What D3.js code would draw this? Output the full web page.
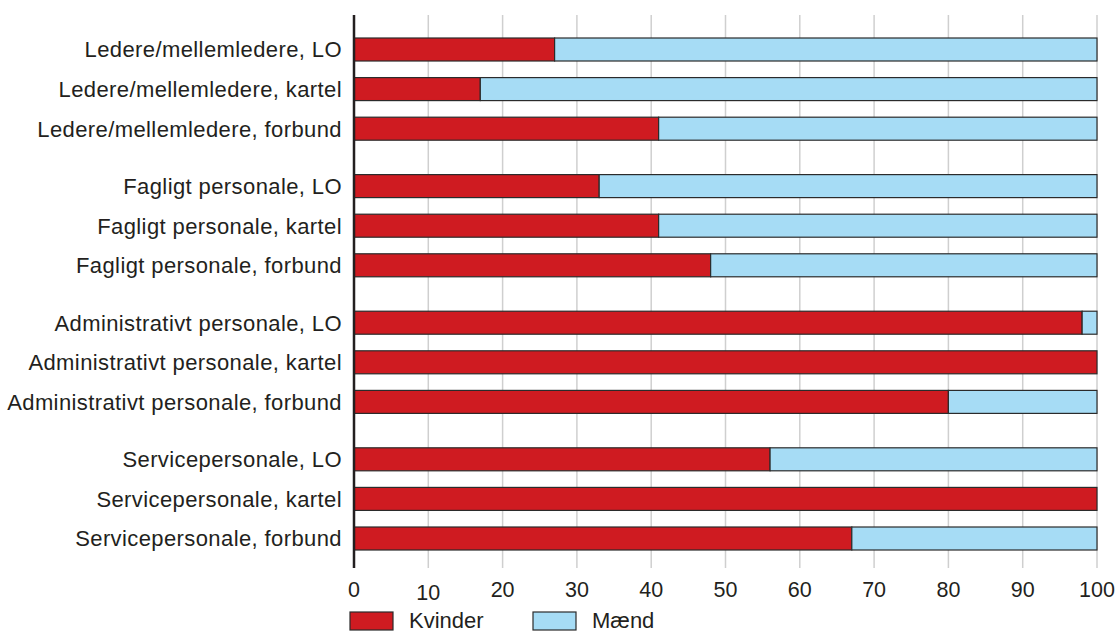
<!DOCTYPE html>
<html>
<head>
<meta charset="utf-8">
<script src="https://cdn.jsdelivr.net/npm/d3@7"></script>
<style>
  html, body { margin: 0; padding: 0; background: #fff; }
  svg { display: block; font-family: "Liberation Sans", Arial, sans-serif; }
</style>
</head>
<body>
<svg id="chart" width="1119" height="632"></svg>
<script>
// Categories, top to bottom, grouped by staff type
const categories = [
  "Ledere/mellemledere, LO",
  "Ledere/mellemledere, kartel",
  "Ledere/mellemledere, forbund",
  "Fagligt personale, LO",
  "Fagligt personale, kartel",
  "Fagligt personale, forbund",
  "Administrativt personale, LO",
  "Administrativt personale, kartel",
  "Administrativt personale, forbund",
  "Servicepersonale, LO",
  "Servicepersonale, kartel",
  "Servicepersonale, forbund"
];
const groupOf = [0, 0, 0, 1, 1, 1, 2, 2, 2, 3, 3, 3];

// Share of women (percent); men make up the rest
const kvinder = [27, 17, 41, 33, 41, 48, 98, 100, 80, 56, 100, 67];
const maend = kvinder.map(v => 100 - v);

const seriesNames = ["Kvinder", "Mænd"];
const seriesColors = ["#cf1b21", "#a6dcf5"];
const xTicks = [0, 10, 20, 30, 40, 50, 60, 70, 80, 90, 100];

const svg = d3.select("#chart");
const textColor = "#231f20";

const plot = { left: 354, right: 1097, top: 15, bottom: 568 };

const x = d3.scaleLinear().domain([0, 100]).range([plot.left, plot.right]);

// Slot position: one unit per bar plus a little extra space between groups
const groupGap = 0.45;
const slot = categories.map((c, i) => i + groupOf[i] * groupGap);
const y = d3.scaleLinear()
  .domain([0, slot[slot.length - 1]])
  .range([49.5, 538.5]);
const barH = 23;

// Vertical grid
svg.append("g")
  .selectAll("line")
  .data(xTicks.slice(1))
  .join("line")
  .attr("x1", d => x(d)).attr("x2", d => x(d))
  .attr("y1", plot.top).attr("y2", plot.bottom)
  .attr("stroke", "#cfcfcf")
  .attr("stroke-width", 1.5);

// Stacked bars
const rows = categories.map((c, i) => ({ c, i, k: kvinder[i], m: maend[i] }));
const stack = d3.stack().keys(["k", "m"])(rows);

svg.append("g")
  .selectAll("g")
  .data(stack)
  .join("g")
  .attr("fill", (d, si) => seriesColors[si])
  .selectAll("rect")
  .data(d => d.filter(s => s[1] - s[0] > 0))
  .join("rect")
  .attr("x", d => x(d[0]))
  .attr("width", d => x(d[1]) - x(d[0]))
  .attr("y", d => y(slot[d.data.i]) - barH / 2)
  .attr("height", barH)
  .attr("stroke", "#2b2b2b")
  .attr("stroke-width", 1.2);

// Left axis line
svg.append("line")
  .attr("x1", plot.left).attr("x2", plot.left)
  .attr("y1", plot.top).attr("y2", plot.bottom)
  .attr("stroke", "#231f20")
  .attr("stroke-width", 2.5);

// Category labels
svg.append("g")
  .selectAll("text")
  .data(categories)
  .join("text")
  .attr("x", 342)
  .attr("y", (d, i) => y(slot[i]))
  .attr("dy", "0.36em")
  .attr("text-anchor", "end")
  .attr("fill", textColor)
  .style("font-size", "22px")
  .style("letter-spacing", "0.4px")
  .text(d => d);

// X tick labels
svg.append("g")
  .selectAll("text")
  .data(xTicks)
  .join("text")
  .attr("x", d => x(d))
  .attr("y", d => d === 10 ? 600 : 597)
  .attr("text-anchor", "middle")
  .attr("fill", textColor)
  .style("font-size", "21.5px")
  .text(d => d);

// Legend
const legend = svg.append("g");
const legendX = [350, 533];
seriesNames.forEach((name, i) => {
  legend.append("rect")
    .attr("x", legendX[i]).attr("y", 612)
    .attr("width", 43).attr("height", 18)
    .attr("fill", seriesColors[i])
    .attr("stroke", "#2b2b2b")
    .attr("stroke-width", 1.2);
  legend.append("text")
    .attr("x", legendX[i] + 59).attr("y", 628)
    .attr("fill", textColor)
    .style("font-size", "22px")
    .text(name);
});
</script>
</body>
</html>
